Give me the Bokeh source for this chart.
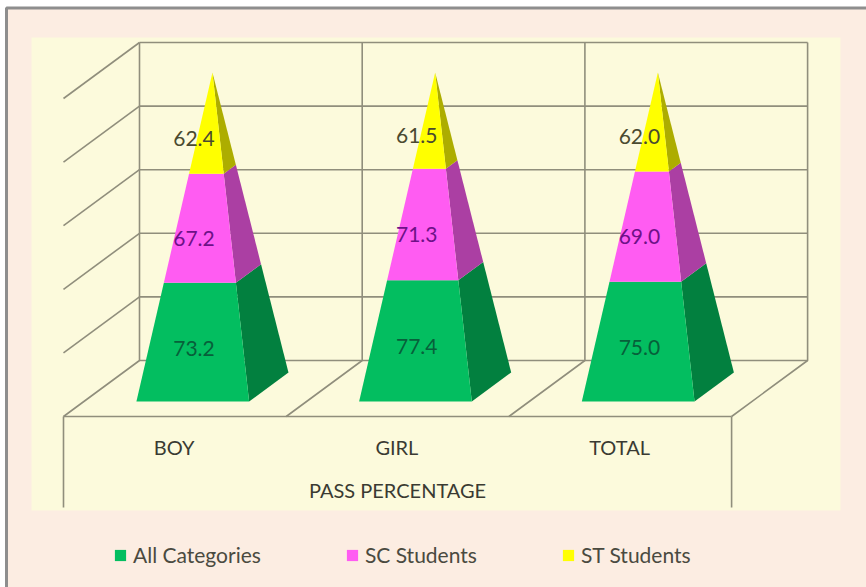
from bokeh.plotting import figure
from bokeh.models import Range1d, Legend, LegendItem
from bokeh.core.properties import value
from bokeh.embed import file_html
from bokeh.resources import INLINE

categories = ["BOY", "GIRL", "TOTAL"]
all_categories = [73.2, 77.4, 75.0]
sc_students = [67.2, 71.3, 69.0]
st_students = [62.4, 61.5, 62.0]
series_names = ["All Categories", "SC Students", "ST Students"]
axis_title = "PASS PERCENTAGE"
percent_ticks = [0, 20, 40, 60, 80, 100]

W, H = 866, 587
PX_PER_CAT, PX_PER_PCT = 222.7, 3.18
ORIGIN_X, ORIGIN_Y = 63, 416
DEPTH_X, DEPTH_Y = 76 / PX_PER_CAT, 56 / PX_PER_PCT
LEFT, RIGHT, FRONT, BACK, APEX_PCT = 0.236, 0.742, 0.268, 0.786, 98.9
FONT = value("Lato")

front_colors = ["#03BE60", "#FF5CF2", "#FFFF00"]
side_colors = ["#02803F", "#AB3FA3", "#ADAD00"]
label_colors = ["#07603A", "#6E1187", "#4A4A30"]
LABEL_DROP = [6 / PX_PER_PCT, 10 / PX_PER_PCT, 15 / PX_PER_PCT]
LABEL_X_PX = 193.5
GRID = "#908E7C"


def sx(px):
    return (px - ORIGIN_X) / PX_PER_CAT


def sy(py):
    return (ORIGIN_Y - py) / PX_PER_PCT


def proj(u, d, pct):
    return u + d * DEPTH_X, pct + d * DEPTH_Y


p = figure(width=W, height=H, output_backend="svg", toolbar_location=None,
           x_range=Range1d(sx(0), sx(W)), y_range=Range1d(sy(H), sy(0)),
           min_border=0, outline_line_color=None, background_fill_color="white",
           border_fill_color="white", styles={"position": "absolute", "left": "0", "top": "0"})
p.axis.visible = False
p.grid.visible = False

# panel, plot area
p.quad(left=[sx(6)], right=[sx(W + 4)], top=[sy(7.5)], bottom=[sy(H + 4)],
       fill_color="#FCEDE2", line_color="#8E8E8E", line_width=3)
p.quad(left=[sx(31)], right=[sx(840)], top=[sy(37)], bottom=[sy(510)],
       fill_color="#FCFADC", line_color=None)

# walls and floor
xs, ys = [], []
for t in percent_ticks:
    a, b = proj(0, 1, t), proj(len(categories), 1, t)
    xs.append([a[0], b[0]]); ys.append([a[1], b[1]])
    if t:
        c = proj(0, 0, t)
        xs.append([c[0], a[0]]); ys.append([c[1], a[1]])
for i in range(len(categories) + 1):
    a, b, c = proj(i, 0, 0), proj(i, 1, 0), proj(i, 1, 100)
    xs.append([a[0], b[0], c[0]]); ys.append([a[1], b[1], c[1]])
xs.append([0, len(categories)]); ys.append([0, 0])
for i in (0, len(categories)):
    xs.append([i, i]); ys.append([0, sy(507)])
p.multi_line(xs, ys, line_color=GRID, line_width=1.6)

# pyramids: 100% stacked
series = [all_categories, sc_students, st_students]
legend_items = []
label_x, label_y, label_t, label_c = [], [], [], []
for s, name in enumerate(series_names):
    fx, fy, ox, oy = [], [], [], []
    for c in range(len(categories)):
        total = sum(v[c] for v in series)
        t0 = sum(v[c] for v in series[:s]) / total
        t1 = t0 + series[s][c] / total
        apex = proj(c + (LEFT + RIGHT) / 2, (FRONT + BACK) / 2, APEX_PCT)

        def at(u, d, t):
            b = proj(c + u, d, 0)
            return b[0] + t * (apex[0] - b[0]), b[1] + t * (apex[1] - b[1])

        fl0, fr0, br0 = at(LEFT, FRONT, t0), at(RIGHT, FRONT, t0), at(RIGHT, BACK, t0)
        fl1, fr1, br1 = at(LEFT, FRONT, t1), at(RIGHT, FRONT, t1), at(RIGHT, BACK, t1)
        fx.append([fl0[0], fr0[0], fr1[0], fl1[0]])
        fy.append([fl0[1], fr0[1], fr1[1], fl1[1]])
        ox.append([fr0[0], br0[0], br1[0], fr1[0]])
        oy.append([fr0[1], br0[1], br1[1], fr1[1]])
        label_x.append(c + sx(LABEL_X_PX))
        label_y.append((fl0[1] + fl1[1]) / 2 - LABEL_DROP[s])
        label_t.append(f"{series[s][c]:.1f}")
        label_c.append(label_colors[s])
    p.patches(ox, oy, fill_color=side_colors[s], line_color=None)
    r = p.patches(fx, fy, fill_color=front_colors[s], line_color=None)
    legend_items.append(LegendItem(label=name, renderers=[r]))

p.text(label_x, label_y, text=label_t, text_color=label_c, text_font=FONT, text_font_size="21px",
       text_align="center", text_baseline="middle")

p.text([i + 0.5 - 0.003 for i in range(len(categories))], [sy(446)] * len(categories), text=categories,
       text_color="#3A3A32", text_font=FONT, text_font_size="20px",
       text_align="center", text_baseline="middle")
p.text([len(categories) / 2], [sy(489)], text=[axis_title], text_color="#3A3A32", text_font=FONT,
       text_font_size="20px", text_align="center", text_baseline="middle")

legend = Legend(items=legend_items, orientation="horizontal", location=(113, 20),
                background_fill_alpha=0, border_line_color=None, glyph_width=14, glyph_height=14,
                label_standoff=6, spacing=84, margin=0, padding=0,
                label_text_font="Lato", label_text_font_size="21px", label_text_color="#4A4A40")
p.add_layout(legend, "center")

open("out.html", "w").write(file_html(p, INLINE))
